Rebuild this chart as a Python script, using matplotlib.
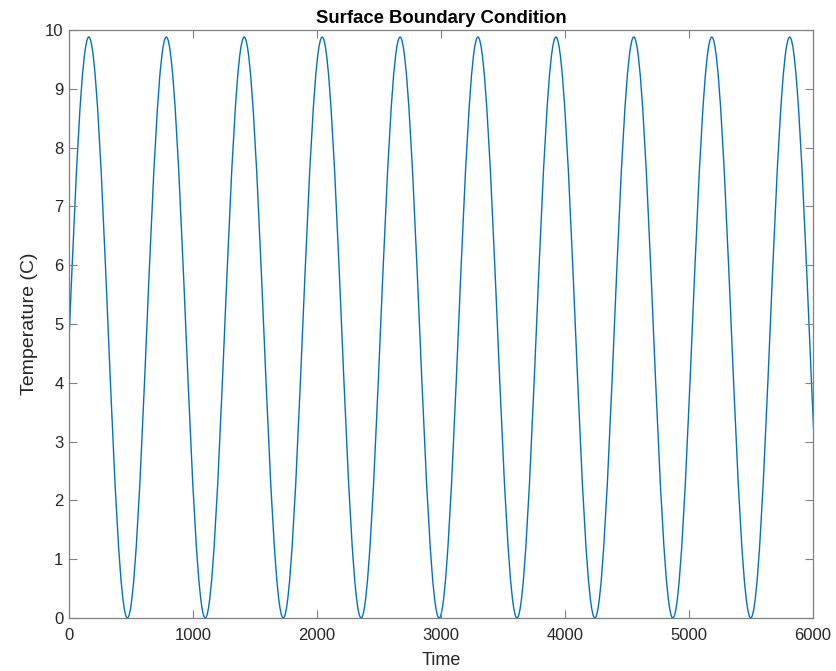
import numpy as np
import matplotlib
matplotlib.use("Agg")
import matplotlib.pyplot as plt
from matplotlib.path import Path
from matplotlib.patches import PathPatch

# extrema (time, temperature)
peak_t = [160, 785, 1413, 2042, 2670, 3298, 3927, 4555, 5184, 5812]
peak_v = [9.88] * 10
trough_t = [471, 1099, 1728, 2356, 2985, 3613, 4241, 4870, 5498]
trough_v = [0.0] * 9

xticks = [0, 1000, 2000, 3000, 4000, 5000, 6000]
yticks = list(range(0, 11))

plt.rcParams['font.family'] = ['Liberation Sans', 'DejaVu Sans']
txt = '#262626'
blue = '#0072BD'

# merge extrema in time order; curve runs past both axis edges (clipped)
ext_t = np.array(sorted(peak_t + trough_t), dtype=float)
lookup = dict(zip(peak_t + trough_t, peak_v + trough_v))
ext_v = np.array([lookup[int(t)] for t in ext_t])
# one half-wave before the first and after the last extremum, mirrored
ext_t = np.concatenate([[2 * ext_t[0] - ext_t[1]], ext_t, [2 * ext_t[-1] - ext_t[-2]]])
ext_v = np.concatenate([[ext_v[1]], ext_v, [ext_v[-2]]])

# smooth half-waves between extrema: cubic Bezier with flat tangents
a = 0.364
verts = [(ext_t[0], ext_v[0])]
codes = [Path.MOVETO]
for i in range(len(ext_t) - 1):
    t0, t1 = ext_t[i], ext_t[i + 1]
    v0, v1 = ext_v[i], ext_v[i + 1]
    dt = t1 - t0
    verts += [(t0 + a * dt, v0), (t1 - a * dt, v1), (t1, v1)]
    codes += [Path.CURVE4] * 3

fig = plt.figure(figsize=(8.37, 6.71), dpi=100)
ax = fig.add_axes([0.0824, 0.079, 0.8889, 0.8763])
ax.add_patch(PathPatch(Path(verts, codes), fill=False, edgecolor=blue, lw=1.0))

ax.set_xlim(0, 6000)
ax.set_ylim(0, 10)
ax.set_xticks(xticks)
ax.set_yticks(yticks)
ax.tick_params(direction='in', length=6, width=0.8, top=True, right=True,
               colors='#808080', labelcolor=txt, labelsize=12, pad=4)
ax.tick_params(axis='x', pad=7)
for s in ax.spines.values():
    s.set_color('#808080')
    s.set_linewidth(0.9)

ax.set_title('Surface Boundary Condition', fontsize=13.3, fontweight='bold', color='black', pad=5)
ax.set_xlabel('Time', fontsize=13, color=txt, labelpad=7)
ax.set_ylabel('Temperature (C)', fontsize=14, color=txt, labelpad=5)

fig.savefig('out.png', dpi=100)
